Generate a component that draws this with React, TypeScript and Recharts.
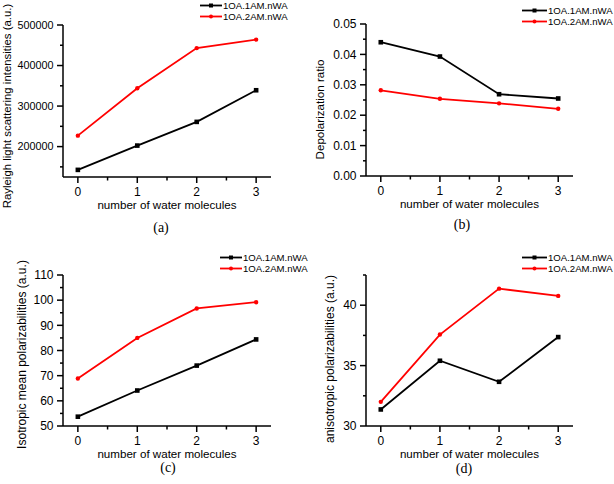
import { LineChart, Line, XAxis, YAxis, Legend, Label } from 'recharts'

// number of water molecules
const WATER = [0, 1, 2, 3]

const NAME_1AM = '1OA.1AM.nWA'
const NAME_2AM = '1OA.2AM.nWA'

// (a) Rayleigh light scattering intensities
const RAYLEIGH_1AM = [142600, 202500, 261000, 339000]
const RAYLEIGH_2AM = [227000, 344000, 443000, 464000]
// (b) depolarization ratio
const DEPOL_1AM = [0.044, 0.0393, 0.0269, 0.0255]
const DEPOL_2AM = [0.0282, 0.0254, 0.0239, 0.0221]
// (c) isotropic mean polarizabilities
const ISO_1AM = [53.7, 64.1, 74.0, 84.4]
const ISO_2AM = [68.9, 85.0, 96.7, 99.2]
// (d) anisotropic polarizabilities
const ANISO_1AM = [31.37, 35.4, 33.66, 37.36]
const ANISO_2AM = [32.0, 37.57, 41.37, 40.77]

const X_TICKS = [0, 0.5, 1, 1.5, 2, 2.5, 3]
const X_LABELS = [0, 1, 2, 3]

const RAYLEIGH_TICKS = [150000, 200000, 250000, 300000, 350000, 400000, 450000, 500000]
const RAYLEIGH_LABELS = [200000, 300000, 400000, 500000]
const DEPOL_TICKS = [0, 0.005, 0.01, 0.015, 0.02, 0.025, 0.03, 0.035, 0.04, 0.045, 0.05]
const DEPOL_LABELS = [0, 0.01, 0.02, 0.03, 0.04, 0.05]
const ISO_TICKS = [50, 55, 60, 65, 70, 75, 80, 85, 90, 95, 100, 105, 110]
const ISO_LABELS = [50, 60, 70, 80, 90, 100, 110]
const ANISO_TICKS = [30, 32.5, 35, 37.5, 40, 42.5]
const ANISO_LABELS = [30, 35, 40]

const FONT = '"Liberation Sans", Arial, Helvetica, sans-serif'
const SERIF = '"Liberation Serif", "Times New Roman", serif'
const RED = '#ff0000'
const W = 307
const H = 242
const X_AXIS_H = 30

const toRows = (s1: number[], s2: number[]) =>
  WATER.map((n, i) => ({ n, s1: s1[i], s2: s2[i] }))

const squareDot = (p: any) => (
  <rect key={`sq-${p.index}`} x={p.cx - 2.3} y={p.cy - 2.3} width={4.6} height={4.6} fill="#000" />
)
const redDot = (p: any) => (
  <circle key={`rd-${p.index}`} cx={p.cx} cy={p.cy} r={2.2} fill={RED} />
)

function YTick({ x, y, payload, labels, fmt, fontSize }: any) {
  const major = labels.includes(payload.value)
  const ax = x + 9.5
  return (
    <g>
      <line x1={ax} x2={ax - (major ? 6 : 3)} y1={y} y2={y} stroke="#000" strokeWidth={1.5} />
      {major && (
        <text x={x} y={y} dy="0.35em" textAnchor="end" fontSize={fontSize} fontFamily={FONT} fill="#000">
          {fmt(payload.value)}
        </text>
      )}
    </g>
  )
}

function XTick({ x, y, payload }: any) {
  const major = X_LABELS.includes(payload.value)
  const ay = y - 9
  return (
    <g>
      <line x1={x} x2={x} y1={ay} y2={ay + (major ? 6 : 3.5)} stroke="#000" strokeWidth={1.5} />
      {major && (
        <text x={x} y={ay + 14.5} dy="0.35em" textAnchor="middle" fontSize={12} fontFamily={FONT} fill="#000">
          {payload.value}
        </text>
      )}
    </g>
  )
}

function LegendBox({ lineW }: { lineW: number }) {
  const rows = [
    { name: NAME_1AM, color: '#000', square: true },
    { name: NAME_2AM, color: RED, square: false },
  ]
  return (
    <div style={{ fontFamily: FONT, fontSize: 9.6, lineHeight: '11px', whiteSpace: 'nowrap' }}>
      {rows.map((r) => (
        <div key={r.name} style={{ display: 'flex', alignItems: 'center', height: 11 }}>
          <svg width={lineW + 1} height={11} style={{ display: 'block' }}>
            <line x1={0} x2={lineW} y1={5.5} y2={5.5} stroke={r.color} strokeWidth={1.8} />
            {r.square ? (
              <rect x={lineW / 2 - 2} y={3.5} width={4} height={4} fill={r.color} />
            ) : (
              <circle cx={lineW / 2} cy={5.5} r={2} fill={r.color} />
            )}
          </svg>
          <span style={{ color: '#000' }}>{r.name}</span>
        </div>
      ))}
    </div>
  )
}

interface PanelProps {
  left: number
  top: number
  s1: number[]
  s2: number[]
  box: { l: number; r: number; t: number; axisY: number }
  domain: [number, number]
  ticks: number[]
  labels: number[]
  fmt: (v: number) => string
  tickFont: number
  yTitle: string
  yTitlePos: { x: number; y: number; size: number }
  caption: string
  captionPos: { x: number; y: number }
  legend: { x: number; y: number; lineW: number }
}

function Panel(p: PanelProps) {
  const data = toRows(p.s1, p.s2)
  const plotCx = (p.box.l + p.box.r) / 2
  const xTitleY = p.box.axisY + 28
  return (
    <div style={{ position: 'absolute', left: p.left, top: p.top, width: W, height: H }}>
      <LineChart
        width={W}
        height={H}
        data={data}
        margin={{ top: p.box.t, right: W - p.box.r, left: 0, bottom: H - p.box.axisY - X_AXIS_H }}
        style={{ overflow: 'visible' }}
      >
        <XAxis
          dataKey="n"
          type="number"
          domain={[-0.25, 3.25]}
          ticks={X_TICKS}
          interval={0}
          allowDataOverflow
          height={X_AXIS_H}
          axisLine={{ stroke: '#000', strokeWidth: 1.5 }}
          tickLine={false}
          tickSize={6}
          tickMargin={3}
          tick={(t: any) => <XTick {...t} />}
        >
          <Label
            content={() => (
              <g>
                <text x={plotCx} y={xTitleY} dy="0.35em" textAnchor="middle" fontSize={11.6} fontFamily={FONT} fill="#000">
                  number of water molecules
                </text>
                <text x={p.captionPos.x} y={p.captionPos.y} dy="0.35em" textAnchor="middle" fontSize={14} fontFamily={SERIF} fill="#000">
                  {p.caption}
                </text>
              </g>
            )}
          />
        </XAxis>
        <YAxis
          type="number"
          domain={p.domain}
          ticks={p.ticks}
          interval={0}
          allowDataOverflow
          width={p.box.l}
          axisLine={{ stroke: '#000', strokeWidth: 1.5 }}
          tickLine={false}
          tickSize={6}
          tickMargin={3.5}
          tick={(t: any) => <YTick {...t} labels={p.labels} fmt={p.fmt} fontSize={p.tickFont} />}
        >
          <Label
            content={() => (
              <text
                x={p.yTitlePos.x}
                y={p.yTitlePos.y}
                dy="0.35em"
                textAnchor="middle"
                fontSize={p.yTitlePos.size}
                fontFamily={FONT}
                fill="#000"
                transform={`rotate(-90 ${p.yTitlePos.x} ${p.yTitlePos.y})`}
              >
                {p.yTitle}
              </text>
            )}
          />
        </YAxis>
        <Legend
          layout="vertical"
          align="center"
          verticalAlign="middle"
          wrapperStyle={{ position: 'absolute', left: p.legend.x, top: p.legend.y, width: 'auto', height: 'auto' }}
          content={() => <LegendBox lineW={p.legend.lineW} />}
        />
        <Line
          name={NAME_1AM}
          dataKey="s1"
          stroke="#000"
          strokeWidth={1.8}
          dot={squareDot}
          activeDot={false}
          isAnimationActive={false}
        />
        <Line
          name={NAME_2AM}
          dataKey="s2"
          stroke={RED}
          strokeWidth={1.8}
          dot={redDot}
          activeDot={false}
          isAnimationActive={false}
        />
      </LineChart>
    </div>
  )
}

export default function App() {
  return (
    <div style={{ position: 'absolute', left: 0, top: 0, width: 614, height: 484, background: '#fff' }}>
      <Panel
        left={0}
        top={0}
        s1={RAYLEIGH_1AM}
        s2={RAYLEIGH_2AM}
        box={{ l: 63, r: 271, t: 25, axisY: 177 }}
        domain={[125000, 500000]}
        ticks={RAYLEIGH_TICKS}
        labels={RAYLEIGH_LABELS}
        fmt={(v) => String(v)}
        tickFont={10.8}
        yTitle="Rayleigh light scattering intensities (a.u.)"
        yTitlePos={{ x: 7, y: 106, size: 11.4 }}
        caption="(a)"
        captionPos={{ x: 161, y: 227 }}
        legend={{ x: 200, y: 0, lineW: 22 }}
      />
      <Panel
        left={307}
        top={0}
        s1={DEPOL_1AM}
        s2={DEPOL_2AM}
        box={{ l: 59, r: 266, t: 24, axisY: 176 }}
        domain={[0, 0.05]}
        ticks={DEPOL_TICKS}
        labels={DEPOL_LABELS}
        fmt={(v) => v.toFixed(2)}
        tickFont={12}
        yTitle="Depolarization ratio"
        yTitlePos={{ x: 13, y: 109.5, size: 11.6 }}
        caption="(b)"
        captionPos={{ x: 155, y: 224 }}
        legend={{ x: 215, y: 4.5, lineW: 25 }}
      />
      <Panel
        left={0}
        top={242}
        s1={ISO_1AM}
        s2={ISO_2AM}
        box={{ l: 63, r: 271, t: 33, axisY: 184 }}
        domain={[50, 110]}
        ticks={ISO_TICKS}
        labels={ISO_LABELS}
        fmt={(v) => String(v)}
        tickFont={12}
        yTitle="Isotropic mean polarizabilities (a.u.)"
        yTitlePos={{ x: 22, y: 112.5, size: 12 }}
        caption="(c)"
        captionPos={{ x: 168, y: 225 }}
        legend={{ x: 220, y: 9.5, lineW: 22 }}
      />
      <Panel
        left={307}
        top={242}
        s1={ANISO_1AM}
        s2={ANISO_2AM}
        box={{ l: 59, r: 266, t: 33, axisY: 184 }}
        domain={[30, 42.5]}
        ticks={ANISO_TICKS}
        labels={ANISO_LABELS}
        fmt={(v) => String(v)}
        tickFont={12}
        yTitle="anisotropic polarizabilities (a.u.)"
        yTitlePos={{ x: 23, y: 117, size: 12 }}
        caption="(d)"
        captionPos={{ x: 157, y: 226 }}
        legend={{ x: 215, y: 10, lineW: 25 }}
      />
    </div>
  )
}
